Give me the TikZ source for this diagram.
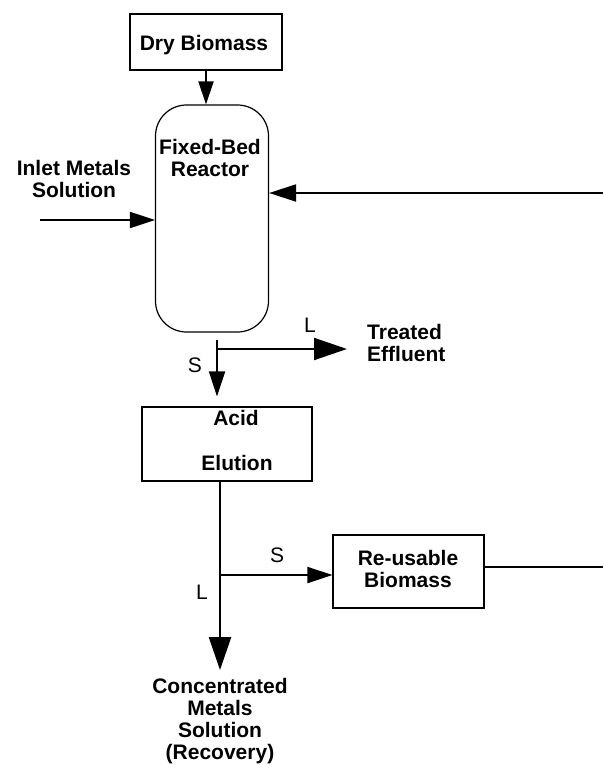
\documentclass[tikz,border=0pt]{standalone}
\usepackage{fontspec}
\setmainfont{Liberation Sans}
\usetikzlibrary{arrows.meta}
\begin{document}
\begin{tikzpicture}[x=1pt,y=-1pt,
  txt/.style={font=\fontsize{21}{22}\selectfont\bfseries, align=center, inner sep=0pt},
  lbl/.style={font=\fontsize{21}{22}\selectfont, inner sep=0pt},
  boxn/.style={draw, line width=1.2pt, inner sep=0pt},
  flow/.style={line width=2pt},
  arr/.style={flow, -{Triangle[length=25pt,width=16pt]}},
  bigarr/.style={flow, -{Triangle[length=33pt,width=22pt]}}]
\useasboundingbox (0,0) rectangle (603,765);

% boxes
\node[boxn, minimum width=152pt, minimum height=56pt] (dry) at (206,42) {};
\node[txt] (drytxt) at (204,45) {Dry Biomass};

\node[boxn, rounded corners=31pt, minimum width=113pt, minimum height=227pt] (reactor) at (212,218.5) {};
\node[txt] (rtxt) at (210,158) {Fixed-Bed\\Reactor};

\node[boxn, minimum width=170pt, minimum height=74pt] (acid) at (227,444) {};
\node[txt] (acidtxt) at (236,418) {Acid};
\node[txt] (elutxt) at (237,463) {Elution};

\node[boxn, minimum width=151pt, minimum height=73pt] (reuse) at (408.5,571.5) {};
\node[txt] (reusetxt) at (408,569) {Re-usable\\Biomass};

% free texts
\node[txt] (inlet) at (74,179) {Inlet Metals\\Solution};
\node[txt, anchor=west, align=left] (eff) at (367,342.5) {Treated\\Effluent};
\node[txt] (conc) at (220,721) {Concentrated\\Metals\\Solution\\(Recovery)};

% labels
\node[lbl] (l1) at (310,325) {L};
\node[lbl] (s1) at (195,365) {S};
\node[lbl] (s2) at (277,555) {S};
\node[lbl] (l2) at (202,592) {L};

% coordinates
\coordinate (inl) at (40,220);
\coordinate (ret) at (603,193);
\coordinate (rb) at (603,567);
\coordinate (s1top) at (217,340);
\coordinate (split1) at (217,349);
\coordinate (efftip) at (347,349);
\coordinate (split2) at (220,575);

% connectors
\draw[arr, -{Triangle[length=23pt,width=15pt]}] (dry.south) -- (dry.south |- reactor.north);
\draw[arr] (inl) -- (inl -| reactor.west);
\draw[arr, -{Triangle[length=27pt,width=17pt]}] (ret) -- (ret -| reactor.east);
\draw[arr, shorten >=10pt] (s1top) -- (s1top |- acid.north);
\draw[bigarr] (split1) -- (efftip);
\draw[bigarr, line width=2.4pt, shorten >=8pt] (acid.south -| split2) -- (conc.north -| split2);
\draw[arr] (split2) -- (split2 -| reuse.west);
\draw[flow] (reuse.east |- rb) -- (rb);
\end{tikzpicture}
\end{document}
